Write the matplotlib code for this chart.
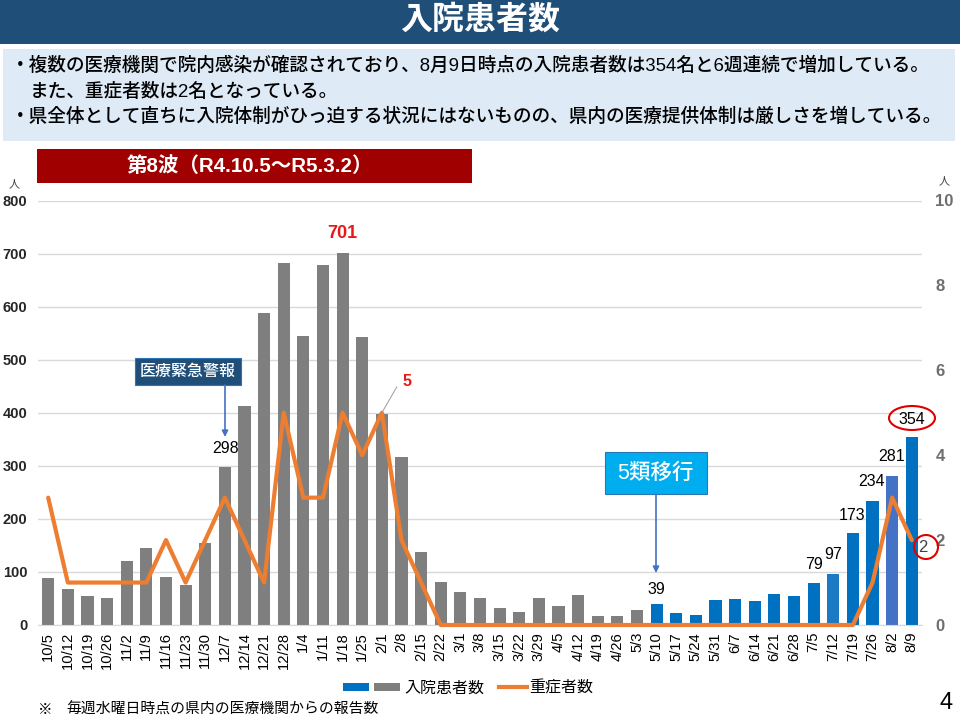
import matplotlib
matplotlib.use("Agg")
import matplotlib.pyplot as plt
from matplotlib.patches import Rectangle, Ellipse, FancyArrowPatch

plt.rcParams['font.family'] = ['Liberation Sans', 'Noto Sans CJK JP', 'DejaVu Sans']

dates = ["10/5","10/12","10/19","10/26","11/2","11/9","11/16","11/23","11/30","12/7","12/14","12/21","12/28",
         "1/4","1/11","1/18","1/25","2/1","2/8","2/15","2/22","3/1","3/8","3/15","3/22","3/29","4/5","4/12",
         "4/19","4/26","5/3","5/10","5/17","5/24","5/31","6/7","6/14","6/21","6/28","7/5","7/12","7/19","7/26","8/2","8/9"]
inpatients = [89,68,55,51,121,146,90,76,155,298,413,588,682,544,678,701,542,397,317,138,81,62,51,32,25,51,36,57,
              17,17,28,39,23,18,47,49,45,59,55,79,97,173,234,281,354]
severe = [3,1,1,1,1,1,2,1,2,3,2,1,5,3,3,5,4,5,2,1,0,0,0,0,0,0,0,0,0,0,0,0,0,0,0,0,0,0,0,0,0,0,1,3,2]
n_gray = 31
labelled = {"12/7":298,"5/10":39,"7/5":79,"7/12":97,"7/19":173,"7/26":234,"8/2":281,"8/9":354}

W, H = 960, 720
fig = plt.figure(figsize=(W/100, H/100), dpi=100, facecolor='white')

def fx(x): return x/W
def fy(y): return 1-y/H
def box(x0, y0, x1, y1, color, **kw):
    fig.add_artist(Rectangle((fx(x0), fy(y1)), (x1-x0)/W, (y1-y0)/H, transform=fig.transFigure,
                             facecolor=color, edgecolor=kw.pop('ec','none'), lw=kw.pop('lw',0), **kw))

box(0, 0, 960, 44, '#1F4E79')
box(3, 49, 955, 141, '#DEEAF6')
box(37, 149, 472, 183, '#A00000')
fig.text(fx(480), fy(20.5), "入院患者数", color='white', fontsize=23, fontweight='bold', ha='center', va='center')
lines = [(11, 66, "・複数の医療機関で院内感染が確認されており、8月9日時点の入院患者数は354名と6週連続で増加している。"),
         (30, 92, "また、重症者数は2名となっている。"),
         (11, 117, "・県全体として直ちに入院体制がひっ迫する状況にはないものの、県内の医療提供体制は厳しさを増している。")]
for x, y, s in lines:
    fig.text(fx(x), fy(y), s, fontsize=13.45, fontweight='medium', color='black', ha='left', va='center')
fig.text(fx(250), fy(165.5), "第8波（R4.10.5～R5.3.2）", color='white', fontsize=14.8, fontweight='bold', ha='center', va='center')

ax = fig.add_axes([fx(38.4), fy(625), (921.6-38.4)/W, (625-200.5)/H])
colors = ['#7F7F7F']*n_gray + ['#0070C0']*(len(dates)-n_gray)
colors[dates.index("7/12")] = '#1A7AC4'
colors[dates.index("8/2")] = '#4472C4'
x = list(range(len(dates)))
ax.bar(x, inpatients, width=0.62, color=colors, zorder=2)
ax.set_xlim(-0.5, len(dates)-0.5)
ax.set_ylim(0, 800)
ax.set_yticks(range(0, 801, 100))
ax.yaxis.grid(True, color='#D9D9D9', lw=1, zorder=0)
ax.set_axisbelow(True)
for s in ['top', 'left', 'right']:
    ax.spines[s].set_visible(False)
ax.spines['bottom'].set_color('#D9D9D9')
ax.set_xticks(x)
ax.set_xticklabels(dates, rotation=90, fontsize=10.6, color='black')
ax.tick_params(axis='x', length=0, pad=5)
ax.tick_params(axis='y', length=0, labelsize=10.5, pad=8, labelcolor='#262626')
for t in ax.get_yticklabels():
    t.set_fontweight('bold')

ax2 = ax.twinx()
ax2.plot(x, severe, color='#ED7D31', lw=3, solid_joinstyle='round', solid_capstyle='round', zorder=5, clip_on=False)
ax2.set_ylim(0, 10)
ax2.set_yticks(range(0, 11, 2))
ax2.tick_params(axis='y', length=0, labelsize=12, labelcolor='#6E6E6E', pad=10)
for t in ax2.get_yticklabels():
    t.set_fontweight('bold')
for s in ax2.spines.values():
    s.set_visible(False)

offs = {"12/7":(1,18),"5/10":(0,15),"7/5":(0,19),"7/12":(0,19),"7/19":(-1,18),"7/26":(-1,19),"8/2":(-1,19),"8/9":(0,18)}
for d, v in labelled.items():
    dx, dy = offs[d]
    ax.annotate(str(v), (dates.index(d), v), xytext=(dx*0.72, dy*0.72), textcoords='offset points',
                ha='center', va='center', fontsize=11.5, color='black', zorder=7)

i_peak = inpatients.index(max(inpatients))
ax.annotate(str(max(inpatients)), (i_peak, max(inpatients)), xytext=(0, 14), textcoords='offset points',
            ha='center', va='center', fontsize=13, fontweight='bold', color='#E81818')

i5 = dates.index("2/1")
ax2.annotate("5", (i5, severe[i5]), xytext=(407, H-382), textcoords='figure pixels', ha='center', va='center',
             fontsize=11.5, fontweight='bold', color='#E81818',
             arrowprops=dict(arrowstyle='-', color='#A6A6A6', lw=0.8, shrinkA=4, shrinkB=1,
                             connectionstyle='angle,angleA=0,angleB=60,rad=0'), zorder=8)

last = len(dates)-1
ax2.text(last+0.55, severe[last]-0.17, "2", fontsize=12, color='#404040', ha='center', va='center', zorder=7)

fig.add_artist(Ellipse((fx(912), fy(418)), 46/W, 24/H, transform=fig.transFigure, fill=False, ec='#E00000', lw=1.5, zorder=9))
fig.add_artist(Ellipse((fx(926), fy(547)), 24/W, 24/H, transform=fig.transFigure, fill=False, ec='#E00000', lw=1.5, zorder=9))

fig.text(fx(14), fy(184), "人", fontsize=8, color='#404040', ha='center', va='center')
fig.text(fx(944), fy(181), "人", fontsize=8, color='#404040', ha='center', va='center')

def arrow(x0, y0, x1, y1):
    fig.add_artist(FancyArrowPatch((fx(x0), fy(y0)), (fx(x1), fy(y1)), transform=fig.transFigure,
                   arrowstyle='-|>', mutation_scale=9, color='#4472C4', lw=1.2, shrinkA=0, shrinkB=0, zorder=9))
box(135, 358, 241, 385, '#1F4E79', ec='#2E75B6', lw=0.8, zorder=8)
fig.text(fx(188), fy(371), "医療緊急警報", color='white', fontsize=11.5, fontweight='medium', ha='center', va='center', zorder=10)
arrow(225, 385, 225, 437)
box(605, 452, 707, 494, '#00AEEF', ec='#2E75B6', lw=0.8, zorder=8)
fig.text(fx(655), fy(473.5), "5類移行", color='white', fontsize=15.5, fontweight='medium', ha='center', va='center', zorder=10)
arrow(656, 494, 656, 573)

box(343, 683, 369, 691, '#0070C0')
box(374, 683, 400, 691, '#7F7F7F')
fig.text(fx(404), fy(688), "入院患者数", fontsize=11.5, ha='left', va='center')
fig.add_artist(plt.Line2D([fx(499), fx(527)], [fy(687), fy(687)], color='#ED7D31', lw=3, transform=fig.transFigure))
fig.text(fx(529), fy(688), "重症者数", fontsize=11.5, ha='left', va='center')

fig.text(fx(38), fy(709.5), "※", fontsize=10.5, ha='left', va='center')
fig.text(fx(66), fy(709.5), "毎週水曜日時点の県内の医療機関からの報告数", fontsize=10.7, ha='left', va='center')
fig.text(fx(946), fy(703), "4", fontsize=17, ha='center', va='center')

fig.savefig('out.png', dpi=100)
